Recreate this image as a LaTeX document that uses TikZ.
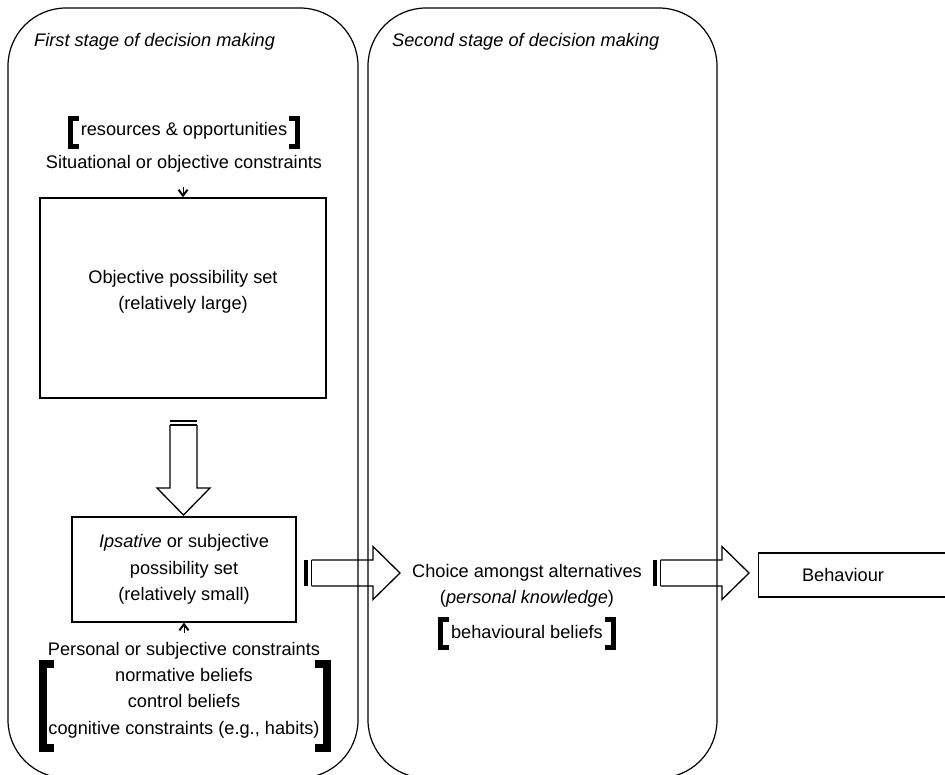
\documentclass[tikz,border=0pt]{standalone}
\usepackage{fontspec}
\setmainfont{Liberation Sans}
\usetikzlibrary{arrows.meta,calc}
\begin{document}
\begin{tikzpicture}[x=1pt,y=-1pt,
  every node/.style={font=\fontsize{18.2}{26.3}\selectfont, inner sep=0pt, align=center},
  stagebox/.style={draw, line width=1.2pt, rounded corners=58pt},
  plainbox/.style={draw, line width=1.3pt},
  brk/.style={line width=5pt, line join=miter},
  bigbrk/.style={line width=8pt, line join=miter},
  tip/.style={-{Straight Barb[length=6pt,width=9pt,line width=2pt]}, line width=0.8pt},
  hblock/.pic={
    \fill (0,-13) rectangle (4,13);
    \draw[line width=1.3pt] (7.5,-13) -- (7.5,13);
    \draw[line width=1.3pt, line join=miter]
      (7.5,-13) -- ({#1-27},-13) -- ({#1-27},-26.5) -- (#1,0)
      -- ({#1-27},26.5) -- ({#1-27},13) -- (7.5,13);
  },
  vblock/.pic={
    \fill (-13.5,0) rectangle (13.5,2.5);
    \draw[line width=1.3pt] (-13.5,5.5) -- (13.5,5.5);
    \draw[line width=1.3pt, line join=miter]
      (-13.5,5.5) -- (-13.5,{#1-27}) -- (-26.5,{#1-27}) -- (0,#1)
      -- (26.5,{#1-27}) -- (13.5,{#1-27}) -- (13.5,5.5);
  }
]
\clip (0,0) rectangle (945,774);

% the two stages
\draw[stagebox] (8,8) rectangle (358,778);
\draw[stagebox] (368,8) rectangle (717,778);
\node[anchor=west, font=\fontsize{18.2}{22}\selectfont\itshape] (stage1) at (34,42) {First stage of decision making};
\node[anchor=west, font=\fontsize{18.2}{22}\selectfont\itshape] (stage2) at (392,42) {Second stage of decision making};

% situational constraints
\node (res) at (184,131) {resources \& opportunities};
\draw[brk] ($(res.west)+(-2,-12.5)$) -- ($(res.west)+(-10.5,-12.5)$)
  -- ($(res.west)+(-10.5,15.5)$) -- ($(res.west)+(-2,15.5)$);
\draw[brk] ($(res.east)+(2,-12.5)$) -- ($(res.east)+(10.5,-12.5)$)
  -- ($(res.east)+(10.5,15.5)$) -- ($(res.east)+(2,15.5)$);
\node (sit) at (184,164) {Situational or objective constraints};

% objective possibility set
\node[plainbox, minimum width=286pt, minimum height=200pt] (obj) at (183,298) {};
\node (objtxt) at (183,292) {Objective possibility set\\(relatively large)};
\coordinate (sitend) at ($(obj.north)+(0,-10)$);
\draw[tip] (sitend) -- (obj.north);

% narrowing down
\pic at (183.5,419.5) {vblock=95.5};

% ipsative possibility set
\node[plainbox, minimum width=224pt, minimum height=105pt] (ips) at (184,569.5)
  {\textit{Ipsative} or subjective\\possibility set\\(relatively small)};

% personal constraints
\node (pers) at (184,690) {Personal or subjective constraints\\normative beliefs\\control beliefs\\cognitive constraints (e.g., habits)};
\coordinate (persend) at ($(ips.south)+(0,10)$);
\draw[tip] (persend) -- (ips.south);
\draw[bigbrk] ($(pers.west)+(6,-26)$) -- ($(pers.west)+(-5,-26)$)
  -- ($(pers.west)+(-5,58)$) -- ($(pers.west)+(6,58)$);
\draw[bigbrk] ($(pers.east)+(-5,-26)$) -- ($(pers.east)+(6.5,-26)$)
  -- ($(pers.east)+(6.5,58)$) -- ($(pers.east)+(-5,58)$);

% second stage
\pic at (304,573) {hblock=96};
\node (choice) at (527,573) {Choice amongst alternatives};
\node (pk) at (527,599) {(\textit{personal knowledge})};
\node (bb) at (527,632) {behavioural beliefs};
\draw[brk] ($(bb.west)+(-2,-12.5)$) -- ($(bb.west)+(-10.5,-12.5)$)
  -- ($(bb.west)+(-10.5,15.5)$) -- ($(bb.west)+(-2,15.5)$);
\draw[brk] ($(bb.east)+(2,-12.5)$) -- ($(bb.east)+(10.5,-12.5)$)
  -- ($(bb.east)+(10.5,15.5)$) -- ($(bb.east)+(2,15.5)$);

% behaviour
\pic at (653,573) {hblock=96};
\node[plainbox, minimum width=220pt, minimum height=44pt, anchor=west] (beh) at (758,575) {};
\node (behtxt) at (843,575) {Behaviour};
\end{tikzpicture}
\end{document}
